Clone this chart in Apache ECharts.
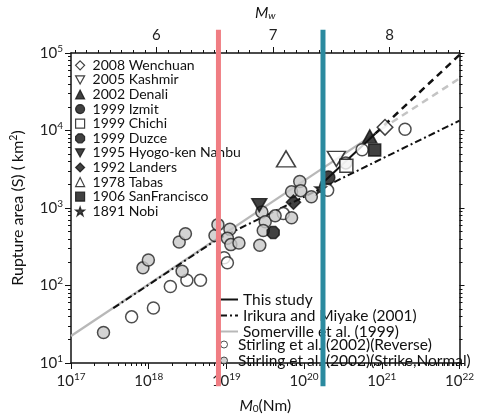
<!DOCTYPE html>
<html>
<head>
<meta charset="utf-8">
<script src="https://cdn.jsdelivr.net/npm/echarts@6/dist/echarts.min.js"></script>
<style>
html,body{margin:0;padding:0;background:#fff;}
#chart{width:477px;height:419px;}
</style>
</head>
<body>
<div id="chart"></div>
<script>
// ---- Earthquake events: seismic moment M0 (N·m) and rupture area S (km²) ----
const eventNames   = ['2008 Wenchuan', '2005 Kashmir', '2002 Denali', '1999 Izmit', '1999 Chichi',
                      '1999 Duzce', '1995 Hyogo-ken Nanbu', '1992 Landers', '1978 Tabas',
                      '1906 SanFrancisco', '1891 Nobi'];
const eventMoments = [1.1e21, 2.6e20, 7.0e20, 2.05e20, 3.5e20, 4.0e19, 2.65e19, 7.3e19, 5.85e19, 8.1e20, 1.63e20];
const eventAreas   = [11000, 4300, 8400, 2470, 3500, 483, 1090, 1190, 4300, 5590, 1790];

// ---- Stirling et al. (2002) compilation ----
const stirlingReverseM0 = [6.03e17, 1.15e18, 1.9e18, 3.1e18, 4.64e18, 9.35e18, 1.03e19, 5.4e19, 2.01e20, 5.58e20, 1.99e21];
const stirlingReverseS  = [39.4, 51.2, 97, 117, 117, 228, 196, 847, 1690, 5640, 10380];
const stirlingStrikeM0  = [2.62e17, 8.43e17, 9.9e17, 2.69e18, 2.47e18, 2.97e18, 7.13e18, 7.78e18, 1.11e19, 1.03e19,
                           1.14e19, 1.45e19, 2.69e19, 2.86e19, 3.16e19, 2.98e19, 4.24e19, 6.9e19, 6.9e19, 8.79e19,
                           9.06e19, 1.24e20, 3.44e20];
const stirlingStrikeS   = [24.7, 169, 213, 153, 364, 465, 442, 610, 531, 408,
                           337, 353, 330, 889, 665, 512, 792, 747, 1620, 2200,
                           1675, 1400, 3820];

// ---- Scaling relations ----
const thisStudyM0     = [1.66e20, 8.3e20];
const thisStudyS      = [2020, 9160];
const thisStudyExtM0  = [8.3e20, 1e22];
const thisStudyExtS   = [9160, 94400];
const irikuraM0       = [3.5e17, 7.5e18, 1e22];
const irikuraS        = [51, 390, 13400];
const somervilleM0    = [1e17, 1e21];
const somervilleS     = [22.3, 10500];
const somervilleExtM0 = [1e21, 1e22];
const somervilleExtS  = [10500, 47000];

// ---- Reference moments marked by vertical bands ----
const refMoments = [7.9e18, 1.75e20];
const refAreaSpan = [5, 2e5];

// ---- Axis ticks ----
const mwLabels = [6, 7, 8];

const FONT = 'Lato';
const toMw = m0log => (2 / 3) * (m0log - 9.1);

function pairs(xs, ys) { return xs.map((x, i) => [x, ys[i]]); }
function logMinor(lo, hi) {
  const out = [];
  for (let d = lo; d < hi; d++) for (let k = 2; k <= 9; k++) out.push(d + Math.log10(k));
  return out;
}
function decades(lo, hi) { const out = []; for (let d = lo; d <= hi; d++) out.push(d); return out; }
function mwTicks(lo, hi) {
  const out = [];
  for (let t = Math.ceil(lo * 10); t <= Math.floor(hi * 10); t++) out.push(t / 10);
  return out;
}

const powRich = {
  b: { fontSize: 15, fontFamily: FONT, color: '#222' },
  s: { fontSize: 10, fontFamily: FONT, color: '#222', padding: [0, 0, 9, 0] }
};
const powLabel = v => '{b|10}{s|' + Math.round(Math.log10(v)) + '}';

const black = '#111';
const axisLineStyle = { color: black, width: 1.5 };

const STAR = 'path://M12,0 L15,9 L24,9 L17,14.5 L20,24 L12,18 L4,24 L7,14.5 L0,9 L9,9Z';
const OCTAGON = 'path://M7,0 L17,0 L24,7 L24,17 L17,24 L7,24 L0,17 L0,7Z';
const DOWN_TRI = 'path://M0,0 L20,0 L10,18Z';
const DIAMOND = 'path://M10,0 L20,10 L10,20 L0,10Z';

// marker styles in event order; legend icons use the same shapes at a small size
const eventStyles = [
  { symbol: 'rect', symbolRotate: 45, symbolSize: 11, fill: '#fff', icon: DIAMOND },
  { symbol: 'triangle', symbolRotate: 180, symbolSize: [18, 15], fill: '#fff', icon: DOWN_TRI },
  { symbol: 'triangle', symbolRotate: 0, symbolSize: [14, 13], fill: black, icon: 'triangle' },
  { symbol: 'circle', symbolRotate: 0, symbolSize: 13, fill: black, icon: 'circle' },
  { symbol: 'rect', symbolRotate: 0, symbolSize: 13, fill: '#fff', icon: 'rect' },
  { symbol: OCTAGON, symbolRotate: 0, symbolSize: 12, fill: black, icon: OCTAGON },
  { symbol: 'triangle', symbolRotate: 180, symbolSize: [15, 13], fill: black, icon: DOWN_TRI },
  { symbol: 'rect', symbolRotate: 45, symbolSize: 10, fill: black, icon: DIAMOND },
  { symbol: 'triangle', symbolRotate: 0, symbolSize: [19, 16], fill: '#fff', icon: 'triangle' },
  { symbol: 'rect', symbolRotate: 0, symbolSize: 12, fill: black, icon: 'rect' },
  { symbol: STAR, symbolRotate: 0, symbolSize: 11, fill: black, icon: STAR }
];

const series = [];

// scaling relations (drawn beneath the markers)
series.push({
  name: 'Somerville et al. (1999)', type: 'line', data: pairs(somervilleM0, somervilleS), color: '#b8b8b8',
  symbol: 'none', lineStyle: { color: '#b8b8b8', width: 2.2 }, z: 2, silent: true
});
series.push({
  name: 'somervilleExt', type: 'line', data: pairs(somervilleExtM0, somervilleExtS), color: '#c4c4c4',
  symbol: 'none', lineStyle: { color: '#c4c4c4', width: 2.5, type: [7, 5] }, z: 2, silent: true
});
series.push({
  name: 'Irikura and Miyake (2001)', type: 'line', data: pairs(irikuraM0, irikuraS), color: black,
  symbol: 'none', lineStyle: { color: black, width: 2, type: [7, 3, 2, 3] }, z: 3, silent: true
});
series.push({
  name: 'This study', type: 'line', data: pairs(thisStudyM0, thisStudyS), color: black,
  symbol: 'none', lineStyle: { color: black, width: 2 }, z: 3, silent: true
});
series.push({
  name: 'thisStudyExt', type: 'line', data: pairs(thisStudyExtM0, thisStudyExtS), color: black,
  symbol: 'none', lineStyle: { color: black, width: 2.5, type: [7, 5] }, z: 3, silent: true
});

// compilation
series.push({
  name: 'Stirling et al. (2002)(Reverse)', type: 'scatter', data: pairs(stirlingReverseM0, stirlingReverseS),
  symbol: 'circle', symbolSize: 12, itemStyle: { color: '#fff', borderColor: '#222', borderWidth: 1.5 }, z: 4
});
series.push({
  name: 'Stirling et al. (2002)(Strike,Normal)', type: 'scatter', data: pairs(stirlingStrikeM0, stirlingStrikeS),
  symbol: 'circle', symbolSize: 12, itemStyle: { color: '#c8c8c8', borderColor: '#222', borderWidth: 1.5 }, z: 4
});

// events
eventNames.forEach((name, i) => {
  const st = eventStyles[i];
  series.push({
    name, type: 'scatter', data: [[eventMoments[i], eventAreas[i]]],
    symbol: st.symbol, symbolRotate: st.symbolRotate, symbolSize: st.symbolSize,
    itemStyle: { color: st.fill, borderColor: black, borderWidth: 1.5 }, z: 5
  });
});

// vertical bands
const refColors = ['#f07d83', '#2b8a9f'];
refMoments.forEach((m, i) => {
  series.push({
    name: 'ref' + i, type: 'line', data: [[m, refAreaSpan[0]], [m, refAreaSpan[1]]],
    symbol: 'none', clip: false, silent: true, z: 20,
    lineStyle: { color: refColors[i], width: 5 }
  });
});

const txt = { fontFamily: FONT, fontSize: 14, color: '#111' };

const eventLegendData = eventNames.map((name, i) => ({
  name, icon: eventStyles[i].icon,
  itemStyle: { color: eventStyles[i].fill, borderColor: black, borderWidth: 1.2 }
}));

const option = {
  animation: false,
  backgroundColor: '#fff',
  grid: { left: 68, right: 15, top: 53, bottom: 50 },
  xAxis: [
    {
      type: 'log', logBase: 10, min: 1e17, max: 1e22, position: 'bottom',
      axisLine: { show: true, onZero: false, lineStyle: axisLineStyle },
      axisTick: { show: true, length: 6, lineStyle: { color: black, width: 1 } },
      axisLabel: { formatter: powLabel, rich: powRich, margin: 9 },
      splitLine: { show: false },
      name: '{i|M}{sub|0}{n|(Nm)}', nameLocation: 'middle', nameGap: 35,
      nameTextStyle: {
        rich: {
          i: { fontFamily: FONT, fontSize: 15.5, fontStyle: 'italic', color: '#111' },
          sub: { fontFamily: FONT, fontSize: 10, color: '#111', padding: [6, 0, 0, 0] },
          n: { fontFamily: FONT, fontSize: 15.5, color: '#111' }
        }
      }
    },
    {
      type: 'value', min: 17, max: 22, position: 'bottom',
      axisLine: { show: false },
      axisTick: { show: true, length: 3, customValues: logMinor(17, 22), lineStyle: { color: black } },
      axisLabel: { show: false }, splitLine: { show: false }
    },
    {
      type: 'value', min: toMw(17), max: toMw(22), position: 'top',
      axisLine: { show: true, onZero: false, lineStyle: axisLineStyle },
      axisTick: { show: true, length: 3, customValues: mwTicks(toMw(17), toMw(22)), lineStyle: { color: black } },
      axisLabel: { customValues: mwLabels, fontFamily: FONT, fontSize: 15, color: '#222', margin: 10 },
      splitLine: { show: false },
      name: '{i|M}{sub|w}', nameLocation: 'middle', nameGap: 32,
      nameTextStyle: {
        rich: {
          i: { fontFamily: FONT, fontSize: 15.5, fontStyle: 'italic', color: '#111' },
          sub: { fontFamily: FONT, fontSize: 10, fontStyle: 'italic', color: '#111', padding: [6, 0, 0, 0] }
        }
      }
    },
    {
      type: 'value', min: toMw(17), max: toMw(22), position: 'top',
      axisLine: { show: false },
      axisTick: { show: true, length: 6, customValues: mwLabels, lineStyle: { color: black } },
      axisLabel: { show: false }, splitLine: { show: false }
    }
  ],
  yAxis: [
    {
      type: 'log', logBase: 10, min: 10, max: 1e5, position: 'left',
      axisLine: { show: true, onZero: false, lineStyle: axisLineStyle },
      axisTick: { show: true, length: 6, lineStyle: { color: black } },
      axisLabel: { formatter: powLabel, rich: powRich, margin: 8 },
      splitLine: { show: false },
      name: 'Rupture area ({i|S}) ( km{sup|2})', nameLocation: 'middle', nameGap: 44, nameRotate: 90,
      nameTextStyle: {
        fontFamily: FONT, fontSize: 16, color: '#111',
        rich: {
          i: { fontFamily: FONT, fontSize: 16, color: '#111' },
          sup: { fontFamily: FONT, fontSize: 10.5, color: '#111', padding: [0, 0, 8, 0] }
        }
      }
    },
    {
      type: 'value', min: 1, max: 5, position: 'left',
      axisLine: { show: false },
      axisTick: { show: true, length: 3, customValues: logMinor(1, 5), lineStyle: { color: black } },
      axisLabel: { show: false }, splitLine: { show: false }
    },
    {
      type: 'value', min: 1, max: 5, position: 'right',
      axisLine: { show: true, onZero: false, lineStyle: axisLineStyle },
      axisTick: { show: true, length: 5, customValues: decades(1, 5), lineStyle: { color: black } },
      axisLabel: { show: false }, splitLine: { show: false }
    },
    {
      type: 'value', min: 1, max: 5, position: 'right',
      axisLine: { show: false },
      axisTick: { show: true, length: 3, customValues: logMinor(1, 5), lineStyle: { color: black } },
      axisLabel: { show: false }, splitLine: { show: false }
    }
  ],
  legend: [
    {
      data: eventLegendData, orient: 'vertical', left: 75, top: 58, padding: 0,
      itemWidth: 9, itemHeight: 9, itemGap: 0, selectedMode: false,
      textStyle: Object.assign({}, txt, { lineHeight: 14.6, padding: [0, 0, 0, 3] })
    },
    {
      data: [
        { name: 'This study', icon: 'rect', itemStyle: { color: black, borderWidth: 0 } },
        { name: 'Irikura and Miyake (2001)', icon: 'path://M0,0h7v2h-7z M10,0h2v2h-2z M15,0h3v2h-3z',
          itemStyle: { color: black, borderWidth: 0 } },
        { name: 'Somerville et al. (1999)', icon: 'rect', itemStyle: { color: '#b8b8b8', borderWidth: 0 } }
      ],
      orient: 'vertical', left: 220, top: 291.5, padding: 0,
      itemWidth: 18, itemHeight: 2, itemGap: 0, selectedMode: false,
      textStyle: Object.assign({}, txt, { fontSize: 15.5, lineHeight: 15 })
    },
    {
      data: [
        { name: 'Stirling et al. (2002)(Reverse)', icon: 'circle',
          itemStyle: { color: '#fff', borderColor: '#222', borderWidth: 1 } },
        { name: 'Stirling et al. (2002)(Strike,Normal)', icon: 'circle',
          itemStyle: { color: '#c8c8c8', borderColor: '#222', borderWidth: 1 } }
      ],
      orient: 'vertical', left: 220, top: 336.5, padding: 0,
      itemWidth: 14, itemHeight: 7, itemGap: 0, selectedMode: false,
      textStyle: Object.assign({}, txt, { fontSize: 15.5, lineHeight: 15.5, padding: [0, 0, 0, 2] })
    }
  ],
  series: series.map(s => Object.assign({ xAxisIndex: 0, yAxisIndex: 0 }, s))
};

const chart = echarts.init(document.getElementById('chart'), null, { renderer: 'canvas' });
chart.setOption(option);
</script>
</body>
</html>
